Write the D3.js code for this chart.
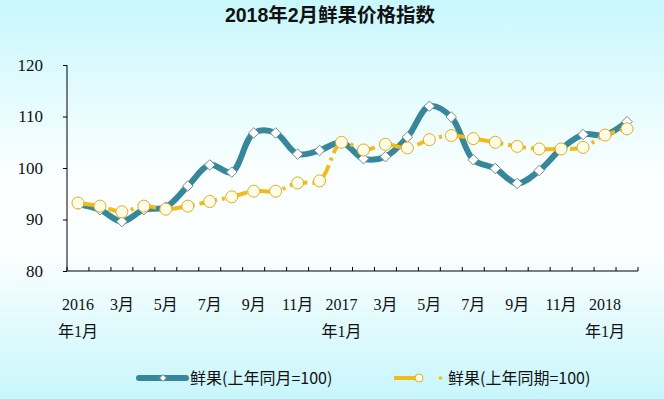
<!DOCTYPE html>
<html lang="zh">
<head>
<meta charset="utf-8">
<title>2018年2月鲜果价格指数</title>
<script src="https://d3js.org/d3.v7.min.js"></script>
<style>
  body{ margin:0; padding:0; }
  svg{ display:block; }
  .tick-label{ font-family:"Liberation Serif","Noto Sans CJK SC",serif; font-size:16px; fill:#111; }
  .y-label{ font-family:"Liberation Serif",serif; font-size:17px; fill:#111; }
  .legend-text{ font-family:"Noto Sans CJK SC",sans-serif; font-size:16px; fill:#111; }
</style>
</head>
<body>
<div id="chart"></div>
<script>
  // months Jan 2016 .. Feb 2018
  var months = ["2016年1月","2月","3月","4月","5月","6月","7月","8月","9月","10月","11月","12月",
                "2017年1月","2月","3月","4月","5月","6月","7月","8月","9月","10月","11月","12月",
                "2018年1月","2月"]
  // label rows shown under the axis (every other month)
  var labelTop = ["2016","","3月","","5月","","7月","","9月","","11月","",
                  "2017","","3月","","5月","","7月","","9月","","11月","",
                  "2018",""]
  var labelBottom = ["年1月","","","","","","","","","","","",
                     "年1月","","","","","","","","","","","",
                     "年1月",""]
  // 鲜果(上年同月=100)
  var sameMonth = [93.0,91.9,89.6,91.9,92.4,96.5,100.6,99.2,106.8,106.8,102.7,103.4,
                   105.0,101.8,102.2,106.0,112.0,109.9,101.6,99.9,97.0,99.5,103.7,106.5,
                   106.4,109.0]
  // 鲜果(上年同期=100)
  var samePeriod = [93.2,92.6,91.5,92.6,92.0,92.6,93.5,94.4,95.5,95.5,97.1,97.5,
                    105.0,103.5,104.6,103.9,105.5,106.3,105.7,105.0,104.2,103.7,103.7,104.0,
                    106.4,107.6]
  var yTicks = [80,90,100,110,120]
  var seriesNames = ["鲜果(上年同月=100)","鲜果(上年同期=100)"]

  var width = 664
  var height = 399
  var plotLeft = 67, plotRight = 638, plotTop = 65, plotBottom = 271
  var teal = "#36879a"
  var gold = "#f2bb17"

  var svg = d3.select("#chart").append("svg")
    .attr("width",width)
    .attr("height",height)

  var grad = svg.append("defs").append("linearGradient")
    .attr("id","bg")
    .attr("x1",0).attr("y1",0).attr("x2",0).attr("y2",1)
  grad.append("stop").attr("offset","0%").attr("stop-color","#c8f7fc")
  grad.append("stop").attr("offset","45%").attr("stop-color","#fcffff")
  grad.append("stop").attr("offset","62%").attr("stop-color","#fcffff")
  grad.append("stop").attr("offset","100%").attr("stop-color","#c8f6fb")

  svg.append("rect")
    .attr("width",width)
    .attr("height",height)
    .attr("fill","url(#bg)")

  svg.append("text")
    .attr("x",330)
    .attr("y",22)
    .attr("text-anchor","middle")
    .style("font-family","'Liberation Sans','Noto Sans CJK SC',sans-serif")
    .style("font-weight","bold")
    .style("font-size","19.5px")
    .attr("fill","#111")
    .text("2018年2月鲜果价格指数")

  var x = d3.scaleBand().domain(d3.range(months.length)).range([plotLeft,plotRight])
  var y = d3.scaleLinear().domain([80,120]).range([plotBottom,plotTop])
  function cx(i){ return x(i)+x.bandwidth()/2 }

  // y axis
  var yAxis = svg.append("g")
    .attr("transform","translate("+plotLeft+",0)")
    .call(d3.axisLeft(y).tickValues(yTicks).tickSize(4).tickPadding(20).tickFormat(d3.format("d")))
  yAxis.select(".domain").attr("stroke","#000").attr("d","M0,"+plotTop+"V"+plotBottom)
  yAxis.selectAll(".tick line").attr("stroke","#000")
  yAxis.selectAll(".tick text").attr("class","y-label").attr("font-size",null).attr("font-family",null)

  // x axis: ticks on band boundaries, pointing up
  var xg = svg.append("g")
  xg.append("line")
    .attr("x1",plotLeft).attr("x2",plotRight)
    .attr("y1",plotBottom).attr("y2",plotBottom)
    .attr("stroke","#000")
  xg.selectAll(".xtick")
    .data(d3.range(months.length+1))
    .enter().append("line")
    .attr("class","xtick")
    .attr("x1",function(d){ return d<months.length ? x(d) : plotRight })
    .attr("x2",function(d){ return d<months.length ? x(d) : plotRight })
    .attr("y1",plotBottom).attr("y2",plotBottom-4)
    .attr("stroke","#000")
  xg.selectAll(".lt")
    .data(labelTop)
    .enter().append("text")
    .attr("class","tick-label")
    .attr("x",function(d,i){ return cx(i) })
    .attr("y",310)
    .attr("text-anchor","middle")
    .text(function(d){ return d })
  xg.selectAll(".lb")
    .data(labelBottom)
    .enter().append("text")
    .attr("class","tick-label")
    .attr("x",function(d,i){ return cx(i) })
    .attr("y",337)
    .attr("text-anchor","middle")
    .text(function(d){ return d })

  var line = d3.line()
    .x(function(d,i){ return cx(i) })
    .y(function(d){ return y(d) })
    .curve(d3.curveCatmullRom)

  // 上年同月 line
  svg.append("path")
    .attr("d",line(sameMonth))
    .attr("fill","none")
    .attr("stroke",teal)
    .attr("stroke-width",6)
    .attr("stroke-linejoin","round")

  // 上年同期 line, long dash dot
  svg.append("path")
    .attr("d",line(samePeriod))
    .attr("fill","none")
    .attr("stroke",gold)
    .attr("stroke-width",4)
    .attr("stroke-dasharray","18,5,3,5")

  svg.selectAll(".diamond")
    .data(sameMonth)
    .enter().append("path")
    .attr("class","diamond")
    .attr("d",d3.symbol().type(d3.symbolDiamond2).size(70))
    .attr("transform",function(d,i){ return "translate("+cx(i)+","+y(d)+")" })
    .attr("fill","#fff")
    .attr("stroke","#6f8d98")
    .attr("stroke-width",1)

  svg.selectAll(".circ")
    .data(samePeriod)
    .enter().append("circle")
    .attr("class","circ")
    .attr("cx",function(d,i){ return cx(i) })
    .attr("cy",function(d){ return y(d) })
    .attr("r",6)
    .attr("fill","#fffde6")
    .attr("stroke","#dcae2c")
    .attr("stroke-width",1)

  // legend
  var ly = 378
  var lg = svg.append("g")
  lg.append("line")
    .attr("x1",139).attr("x2",186).attr("y1",ly).attr("y2",ly)
    .attr("stroke",teal).attr("stroke-width",6).attr("stroke-linecap","round")
  lg.append("path")
    .attr("d",d3.symbol().type(d3.symbolDiamond2).size(30))
    .attr("transform","translate(163,"+ly+")")
    .attr("fill","#fff").attr("stroke","#6f8d98")
  lg.append("text")
    .attr("class","legend-text")
    .attr("x",190).attr("y",ly+6)
    .text(seriesNames[0])

  lg.append("line")
    .attr("x1",394).attr("x2",418).attr("y1",ly).attr("y2",ly)
    .attr("stroke",gold).attr("stroke-width",4)
  lg.append("circle")
    .attr("cx",419).attr("cy",ly).attr("r",4)
    .attr("fill","#fffde6").attr("stroke","#dcae2c")
  lg.append("rect")
    .attr("x",439).attr("y",ly-1.5).attr("width",3).attr("height",3)
    .attr("fill",gold)
  lg.append("text")
    .attr("class","legend-text")
    .attr("x",448).attr("y",ly+6)
    .text(seriesNames[1])
</script>
</body>
</html>
